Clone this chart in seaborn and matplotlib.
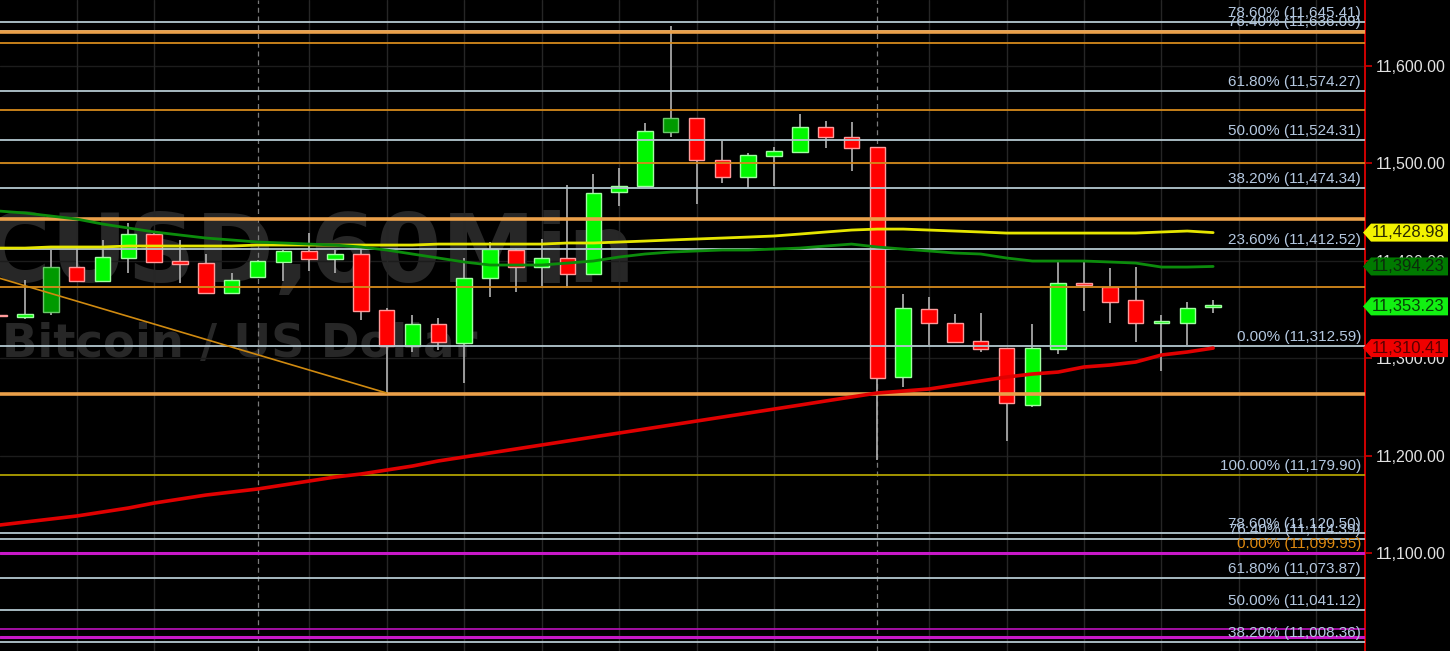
import numpy as np
import pandas as pd
import matplotlib
matplotlib.use("Agg")
import matplotlib.pyplot as plt
import seaborn as sns
from matplotlib.patches import Polygon
from matplotlib.transforms import blended_transform_factory

# ---------------- data ----------------
opens = [11344.0, 11342.3, 11347.4, 11393.6, 11379.3, 11402.9, 11427.5, 11399.8,
         11397.7, 11366.9, 11383.3, 11398.8, 11410.1, 11401.8, 11407.0, 11349.5,
         11312.5, 11335.1, 11315.6, 11382.3, 11411.1, 11393.6, 11402.9, 11386.4,
         11470.6, 11476.8, 11532.2, 11546.6, 11503.5, 11486.0, 11507.6, 11511.7,
         11537.4, 11527.1, 11516.8, 11280.7, 11350.5, 11336.1, 11317.6, 11310.5,
         11251.9, 11309.4, 11376.2, 11373.1, 11359.8, 11336.1, 11336.1, 11352.6]
highs = [11345.5, 11380.3, 11411.1, 11413.1, 11421.4, 11438.8, 11428.5, 11421.4,
         11407.0, 11387.5, 11400.8, 11411.1, 11428.5, 11411.1, 11413.1, 11351.5,
         11344.3, 11341.3, 11402.9, 11419.3, 11412.0, 11422.4, 11477.8, 11489.1,
         11495.3, 11541.5, 11641.1, 11547.0, 11523.0, 11510.7, 11516.8, 11550.7,
         11543.5, 11542.5, 11517.0, 11365.9, 11362.8, 11345.4, 11346.4, 11311.0,
         11335.1, 11398.8, 11400.8, 11392.6, 11393.6, 11344.3, 11357.7, 11359.8]
lows = [11342.0, 11340.2, 11344.3, 11379.3, 11379.3, 11387.5, 11398.0, 11377.2,
        11366.0, 11366.0, 11382.3, 11379.3, 11389.5, 11387.5, 11339.2, 11264.3,
        11306.4, 11308.4, 11274.5, 11362.8, 11368.0, 11374.1, 11372.1, 11386.0,
        11456.3, 11476.0, 11527.1, 11458.3, 11479.9, 11474.7, 11476.8, 11511.0,
        11515.8, 11492.2, 11195.0, 11270.4, 11313.6, 11316.0, 11306.4, 11215.0,
        11249.9, 11304.3, 11348.5, 11336.1, 11316.6, 11286.9, 11313.6, 11346.4]
closes = [11343.0, 11345.4, 11393.6, 11379.3, 11403.9, 11427.5, 11398.8, 11396.7,
          11366.9, 11380.3, 11399.8, 11410.1, 11401.8, 11407.0, 11348.5, 11312.5,
          11335.1, 11316.6, 11382.3, 11412.1, 11393.6, 11402.9, 11386.4, 11469.6,
          11476.8, 11533.3, 11546.6, 11503.5, 11486.0, 11508.6, 11512.7, 11537.4,
          11527.1, 11515.8, 11279.7, 11351.5, 11336.1, 11316.6, 11309.4, 11254.0,
          11310.5, 11377.2, 11375.2, 11357.7, 11336.1, 11336.6, 11351.5, 11353.2]
# candle tone: g = up, r = down, d = dark-green up
tones = list("rgdrggrrrgggrgrrgrggrgrgggdrrgggrrrgrrrrggrrrggg")

ma_yellow = [11413.1, 11413.1, 11414.2, 11414.2, 11414.2, 11415.2, 11415.2, 11415.2,
             11415.2, 11415.2, 11416.2, 11416.2, 11416.2, 11416.2, 11416.2, 11416.2,
             11416.2, 11417.2, 11417.2, 11417.2, 11417.2, 11417.2, 11418.3, 11418.3,
             11419.3, 11420.3, 11421.4, 11422.4, 11423.4, 11424.4, 11425.5, 11427.5,
             11429.6, 11431.6, 11432.6, 11432.6, 11431.6, 11430.6, 11429.6, 11428.5,
             11428.5, 11428.5, 11428.5, 11428.5, 11428.5, 11429.6, 11430.6, 11428.98]
ma_green = [11451.1, 11449.1, 11446.0, 11442.9, 11437.8, 11433.7, 11429.6, 11426.5,
            11423.4, 11421.4, 11419.3, 11418.3, 11417.2, 11416.2, 11414.2, 11411.1,
            11407.0, 11402.9, 11398.8, 11395.7, 11395.7, 11395.7, 11397.7, 11399.8,
            11403.9, 11407.0, 11409.0, 11410.1, 11411.1, 11411.1, 11412.1, 11413.1,
            11415.2, 11417.2, 11414.2, 11412.1, 11410.1, 11408.0, 11407.0, 11402.9,
            11399.8, 11399.8, 11399.8, 11398.8, 11397.7, 11393.6, 11393.6, 11394.23]
ma_red = [11128.7, 11131.8, 11134.9, 11138.0, 11142.1, 11146.2, 11151.3, 11155.4,
          11159.5, 11162.6, 11165.7, 11169.8, 11173.9, 11178.0, 11181.1, 11185.2,
          11189.3, 11194.5, 11198.6, 11202.7, 11206.8, 11210.9, 11215.0, 11219.1,
          11223.2, 11227.3, 11231.4, 11235.5, 11239.6, 11243.7, 11247.8, 11251.9,
          11256.1, 11260.2, 11264.3, 11266.3, 11268.4, 11272.5, 11276.6, 11280.7,
          11283.8, 11285.8, 11291.0, 11293.0, 11296.1, 11303.3, 11306.4, 11310.41]

trend_x = [0.03, 15]
trend_y = [11382.0, 11264.3]

fib_levels = [11645.41, 11636.09, 11574.27, 11524.31, 11474.34, 11412.52, 11312.59,
              11179.90, 11120.50, 11114.39, 11099.95, 11073.87, 11041.12, 11008.36]
fib_labels = ["78.60% (11,645.41)", "76.40% (11,636.09)", "61.80% (11,574.27)",
              "50.00% (11,524.31)", "38.20% (11,474.34)", "23.60% (11,412.52)",
              "0.00% (11,312.59)", "100.00% (11,179.90)", "78.60% (11,120.50)",
              "76.40% (11,114.39)", "0.00% (11,099.95)", "61.80% (11,073.87)",
              "50.00% (11,041.12)", "38.20% (11,008.36)"]
fib_kind = ["w", "w", "w", "w", "w", "w", "w", "y", "w", "w", "m", "w", "w", "w"]

orange_levels = [11635.0, 11623.6, 11554.8, 11500.4, 11443.4, 11373.6, 11263.0]
orange_thick = [True, False, False, False, True, False, True]
magenta_extra = [11021.7, 11014.1]

yticks = [11100, 11200, 11300, 11400, 11500, 11600]
tag_values = [11428.98, 11394.23, 11353.23, 11310.41]
tag_faces = ["#f2f200", "#007a00", "#12f012", "#f00000"]
tag_textc = ["#2a2a00", "#0c2a0c", "#064006", "#5a0000"]

grid_idx = [3, 6, 12, 15, 18, 21, 24, 27, 30, 36, 39, 42, 45, 48, 51]
day_idx = [10, 34]

# ---------------- style ----------------
sns.set_theme(style="dark", rc={"axes.facecolor": "black", "figure.facecolor": "black"})
plt.rcParams["font.family"] = ["Liberation Sans", "DejaVu Sans"]

W, H = 1450, 651
fig = plt.figure(figsize=(W / 100, H / 100), dpi=100)
fig.patch.set_facecolor("black")
ax = fig.add_axes([0, 0, 1365 / W, 1])
ax.set_facecolor("black")
ax.set_xlim(0.03, 52.88)
ax.set_ylim(10999.4, 11667.8)

# watermark
wm = "#272727"
ax.text(635 / 1365, 1 - 282 / H, "BTCUSD,60Min", transform=ax.transAxes, ha="right",
        va="baseline", fontsize=68, fontweight="bold", color=wm, zorder=0.5,
        family="DejaVu Sans")
ax.text(2 / 1365, 1 - 357 / H, "Bitcoin / US Dollar", transform=ax.transAxes, ha="left",
        va="baseline", fontsize=33.5, fontweight="bold", color=wm, zorder=0.5,
        family="DejaVu Sans")

# grid
for t in yticks:
    ax.axhline(t, color="#1c1c1c", lw=1, zorder=1)
for g in grid_idx:
    ax.axvline(g, color="#262626", lw=1, zorder=1)
for d in day_idx:
    ax.axvline(d, color="#7a7a7a", lw=0.9, ls=(0, (4, 3)), zorder=1)

# candles
idx = np.arange(len(opens))
o = np.array(opens)
c = np.array(closes)
bottom = np.minimum(o, c)
height = np.maximum(np.abs(c - o), 1.8)
face_map = {"g": "#00f800", "r": "#ff0000", "d": "#009a00"}
edge_map = {"g": "#a0ffa0", "r": "#ff9a9a", "d": "#6ac86a"}
ax.vlines(idx, lows, highs, color="#a6a6a6", lw=1.3, zorder=3)
ax.bar(idx, height, bottom=bottom, width=0.6,
       color=[face_map[t] for t in tones], edgecolor=[edge_map[t] for t in tones],
       linewidth=1.0, zorder=4)

# horizontal levels
for lv, k in zip(fib_levels, fib_kind):
    col = {"w": "#b4c8d0", "y": "#b0a000", "m": "#c818c8"}[k]
    lw = {"w": 1.3, "y": 1.3, "m": 2.2}[k]
    ax.axhline(lv, color=col, lw=lw, zorder=5)
for lv, thick in zip(orange_levels, orange_thick):
    ax.axhline(lv, color="#eaa04a" if thick else "#d58a1c", lw=2.6 if thick else 1.3, zorder=5)
ax.axhline(magenta_extra[0], color="#b010b0", lw=1.3, zorder=5)
ax.axhline(magenta_extra[1], color="#c818c8", lw=2.2, zorder=5)

# trendline
ax.plot(trend_x, trend_y, color="#d08a10", lw=1.2, zorder=5)

# moving averages via seaborn
df = pd.DataFrame({"idx": idx, "yellow": ma_yellow, "green": ma_green, "red": ma_red})
sns.lineplot(data=df, x="idx", y="yellow", color="#e6e600", lw=2.0, ax=ax, zorder=6)
sns.lineplot(data=df, x="idx", y="green", color="#0c8c0c", lw=2.0, ax=ax, zorder=6)
sns.lineplot(data=df, x="idx", y="red", color="#e00000", lw=2.6, ax=ax, zorder=6)
ax.set_xlabel("")
ax.set_ylabel("")

# fib labels
tr = blended_transform_factory(ax.transAxes, ax.transData)
for lv, lab, k in zip(fib_levels, fib_labels, fib_kind):
    col = "#e08a10" if k == "m" else "#b4c8e0"
    ax.annotate(lab, xy=(1361 / 1365, lv), xycoords=tr, xytext=(0, 5),
                textcoords="offset pixels", ha="right", va="baseline",
                fontsize=11, color=col, zorder=7)

# axes / ticks
ax.set_xticks([])
ax.yaxis.tick_right()
ax.set_yticks(yticks)
ax.set_yticklabels([f"{t:,.2f}" for t in yticks])
ax.tick_params(axis="y", colors="#d00000", labelcolor="#e2e2e2", length=5, width=1.2,
               pad=3, labelsize=11.5, right=True, left=False)
for s in ["left", "top", "bottom"]:
    ax.spines[s].set_visible(False)
ax.spines["right"].set_visible(True)
ax.spines["right"].set_color("#d00000")
ax.spines["right"].set_linewidth(1.4)

# price tags
for v, fc, tc in zip(tag_values, tag_faces, tag_textc):
    cy = ax.transData.transform((0, v))[1]
    pts = [(1363, cy), (1371, cy + 9), (1448, cy + 9), (1448, cy - 9), (1371, cy - 9)]
    poly = Polygon([(px / W, py / H) for px, py in pts], closed=True, transform=fig.transFigure,
                   facecolor=fc, edgecolor="none", zorder=10)
    fig.add_artist(poly)
    fig.text(1372 / W, cy / H, f"{v:,.2f}", ha="left", va="center", fontsize=12,
             color=tc, zorder=11)

fig.savefig("out.png", dpi=100, facecolor="black")
